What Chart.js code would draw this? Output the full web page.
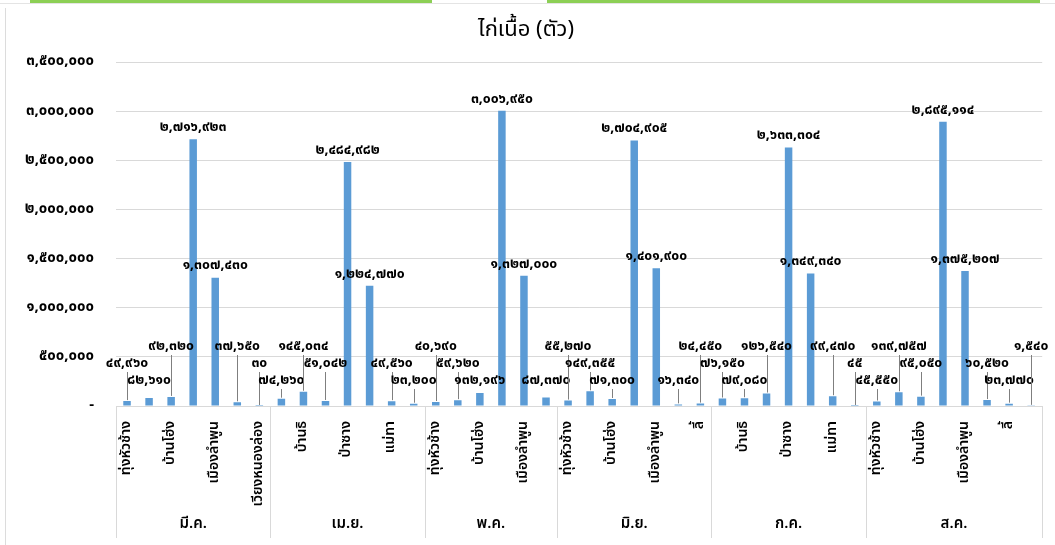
<!DOCTYPE html>
<html>
<head>
<meta charset="utf-8">
<script src="https://cdn.jsdelivr.net/npm/chart.js@4.4.0/dist/chart.umd.min.js"></script>
<style>
  html, body { margin: 0; padding: 0; background: #fff; }
  #wrap { position: relative; width: 1055px; height: 545px; overflow: hidden; }
  .strip { position: absolute; top: 0; height: 3px; background: #8ccf55; }
  #edge { position: absolute; left: 5px; top: 8px; width: 1px; height: 537px; background: #dcdcdc; }
  #topline { position: absolute; left: 0; top: 3px; width: 1055px; height: 1px; background: #e4e4e4; }
  canvas { position: absolute; left: 0; top: 0; }
</style>
</head>
<body>
<div id="wrap">
  <div id="topline"></div>
  <div class="strip" style="left:30px;width:402px"></div>
  <div class="strip" style="left:547px;width:493px"></div>
  <div id="edge"></div>
  <canvas id="myChart" width="1055" height="545"></canvas>
</div>
<script>
// ไก่เนื้อ (ตัว) รายอำเภอ แยกตามเดือน
const months = ['มี.ค.', 'เม.ย.', 'พ.ค.', 'มิ.ย.', 'ก.ค.', 'ส.ค.'];

const districtGroups = [
  ['ทุ่งหัวช้าง', 'บ้านธิ', 'บ้านโฮ่ง', 'ป่าซาง', 'เมืองลำพูน', 'แม่ทา', 'เวียงหนองล่อง'],
  ['ทุ่งหัวช้าง', 'บ้านธิ', 'บ้านโฮ่ง', 'ป่าซาง', 'เมืองลำพูน', 'แม่ทา', 'ลี้'],
  ['ทุ่งหัวช้าง', 'บ้านธิ', 'บ้านโฮ่ง', 'ป่าซาง', 'เมืองลำพูน', 'แม่ทา'],
  ['ทุ่งหัวช้าง', 'บ้านธิ', 'บ้านโฮ่ง', 'ป่าซาง', 'เมืองลำพูน', 'แม่ทา', 'ลี้'],
  ['ทุ่งหัวช้าง', 'บ้านธิ', 'บ้านโฮ่ง', 'ป่าซาง', 'เมืองลำพูน', 'แม่ทา', 'ลี้'],
  ['ทุ่งหัวช้าง', 'บ้านธิ', 'บ้านโฮ่ง', 'ป่าซาง', 'เมืองลำพูน', 'แม่ทา', 'ลี้', 'เวียงหนองล่อง']
];

const chickenCounts = [
  [49960, 82610, 92320, 2716923, 1307430, 37650, 30],
  [74260, 145034, 51042, 2484982, 1224770, 49560, 23200],
  [40690, 59620, 132196, 3006950, 1327000, 87370],
  [55270, 149355, 71300, 2704905, 1401900, 16340, 24450],
  [76150, 79080, 126540, 2633304, 1349340, 99470, 45],
  [45550, 139757, 95050, 2895114, 1375207, 60520, 23770, 1540]
];

const yTicks = [0, 500000, 1000000, 1500000, 2000000, 2500000, 3000000, 3500000];

const thaiDigits = '๐๑๒๓๔๕๖๗๘๙';
const toThai = n => n.toLocaleString('en-US').replace(/\d/g, d => thaiDigits[d]);
const fontFam = 'Tahoma, "Noto Sans Thai", "Noto Sans", sans-serif';

// แตก group เป็นแกน category เส้นเดียว
let labels = [];
let values = [];
let groupStart = [];
districtGroups.forEach((g, m) => {
  groupStart.push(labels.length);
  g.forEach((d, j) => {
    labels.push(d);
    values.push(chickenCounts[m][j]);
  });
});

const groupAxis = {
  id: 'groupAxis',
  afterDatasetsDraw(chart) {
    const c = chart.ctx;
    const x = chart.scales.x;
    const base = chart.chartArea.bottom;
    const edges = groupStart.concat(labels.length).map(i => x.getPixelForValue(i - 0.5));
    c.save();
    c.strokeStyle = '#d9d9d9';
    c.lineWidth = 1;
    edges.forEach(px => {
      c.beginPath();
      c.moveTo(Math.round(px) + 0.5, base);
      c.lineTo(Math.round(px) + 0.5, 538);
      c.stroke();
    });
    c.fillStyle = '#000';
    c.font = '600 15px ' + fontFam;
    c.textAlign = 'center';
    c.textBaseline = 'middle';
    months.forEach((m, k) => {
      c.fillText(m, (edges[k] + edges[k + 1]) / 2, 525);
    });

    // ป้ายค่า
    const meta = chart.getDatasetMeta(0);
    const zeroY = chart.scales.y.getPixelForValue(0);
    c.font = 'bold 14px ' + fontFam;
    c.textBaseline = 'bottom';
    c.strokeStyle = '#7f7f7f';
    meta.data.forEach((el, i) => {
      const txt = toThai(values[i]);
      let ly;
      if (values[i] > 500000) {
        ly = el.y - 4;
      } else {
        const level = [1, 0, 2][i % 3];
        ly = Math.min(zeroY - 18 - 17 * level, el.y - 4);
        if (el.y - ly > 10) {
          c.beginPath();
          c.moveTo(Math.round(el.x) + 0.5, ly + 1);
          c.lineTo(Math.round(el.x) + 0.5, el.y - 1);
          c.stroke();
        }
      }
      c.fillText(txt, el.x, ly);
    });
    c.restore();
  }
};

const ctx = document.getElementById('myChart').getContext('2d');
const myChart = new Chart(ctx, {
  type: 'bar',
  data: {
    labels: labels,
    datasets: [{
      label: 'ไก่เนื้อ',
      data: values,
      backgroundColor: '#5b9bd5',
      barPercentage: 0.34,
      categoryPercentage: 1
    }]
  },
  options: {
    responsive: false,
    animation: false,
    layout: { padding: { left: 0, right: 3, top: 0, bottom: 0 } },
    plugins: {
      legend: { display: false },
      tooltip: { enabled: false },
      title: {
        display: true,
        text: 'ไก่เนื้อ (ตัว)',
        color: '#000',
        font: { size: 22, weight: 'normal', family: fontFam },
        padding: { top: 18, bottom: 18 }
      }
    },
    scales: {
      x: {
        grid: { display: false },
        border: { color: '#d9d9d9' },
        ticks: {
          autoSkip: false,
          maxRotation: 90,
          minRotation: 90,
          padding: 7,
          color: '#000',
          font: { size: 14, weight: '600', family: fontFam },
          callback: (v, i) => (i % 2 === 0 ? labels[i] : '')
        },
        afterFit: s => { s.height = 139; }
      },
      y: {
        min: 0,
        max: 3500000,
        afterBuildTicks: s => { s.ticks = yTicks.map(v => ({ value: v })); },
        grid: { color: '#d9d9d9', drawTicks: false },
        border: { display: false },
        ticks: {
          padding: 22,
          color: '#000',
          font: { size: 15, weight: 'bold', family: fontFam },
          callback: v => (v === 0 ? '-' : toThai(v))
        },
        afterFit: s => { s.width = 116; }
      }
    }
  },
  plugins: [groupAxis]
});
</script>
</body>
</html>
